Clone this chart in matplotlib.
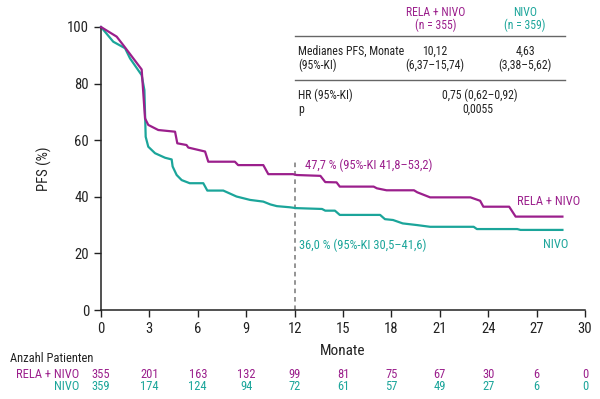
import matplotlib
matplotlib.use("Agg")
import matplotlib.pyplot as plt
import matplotlib.transforms as mtransforms
from matplotlib.lines import Line2D

plt.rcParams["font.family"] = ["Roboto Condensed", "Liberation Sans Narrow", "DejaVu Sans"]
plt.rcParams["font.stretch"] = "condensed"

CLR_RELA = "#9b1f8c"
CLR_NIVO = "#1ba59a"
CLR_TEXT = "#222222"

# KM curves (months, PFS %)
rela_t = [0, 0.97, 1.38, 2.52, 2.73, 2.93, 3.55, 4.59, 4.73, 5.3, 5.41, 6.45, 6.65,
          8.3, 8.5, 10.06, 10.37, 11.9, 12.13, 13.6, 13.9, 14.6, 14.8, 16.9, 17.1,
          17.7, 19.4, 19.6, 20.4, 22.9, 23.5, 23.7, 25.3, 25.7, 28.6]
rela_s = [100, 96.6, 93.6, 85, 67.7, 65.4, 63.6, 63, 58.9, 58.3, 57.4, 56, 52.4,
          52.4, 51.2, 51.2, 48, 48, 47.7, 47.4, 45.2, 45.1, 43.6, 43.6, 43.0,
          42.3, 42.3, 41.6, 39.8, 39.8, 38.6, 36.5, 36.5, 33, 33]

nivo_t = [0, 0.76, 1.49, 1.8, 2.52, 2.69, 2.77, 2.93, 3.35, 3.97, 4.38, 4.44, 4.69,
          5.0, 5.5, 6.34, 6.59, 7.58, 8.4, 9.24, 10.06, 10.5, 10.9, 11.7, 12.1,
          13.7, 13.9, 14.5, 14.8, 17.3, 17.6, 18.1, 18.7, 19.6, 20.4, 23.1, 23.3,
          25.8, 26.0, 28.6]
nivo_s = [100, 94.8, 92.5, 88.9, 83, 77.7, 61.2, 57.7, 55.4, 53.8, 53.2, 50.7, 47.7,
          45.9, 44.8, 44.8, 42.2, 42.2, 40.1, 38.9, 38.3, 37.3, 36.7, 36.3, 36.0,
          35.7, 35.1, 35.1, 33.6, 33.6, 32.1, 31.8, 30.6, 30.0, 29.4, 29.4, 28.6,
          28.6, 28.3, 28.3]

# number at risk
risk_times = [0, 3, 6, 9, 12, 15, 18, 21, 24, 27, 30]
risk_rela = [355, 201, 163, 132, 99, 81, 75, 67, 30, 6, 0]
risk_nivo = [359, 174, 124, 94, 72, 61, 57, 49, 27, 6, 0]

landmark_t = 12
landmark_rela = "47,7 % (95%-KI 41,8–53,2)"
landmark_nivo = "36,0 % (95%-KI 30,5–41,6)"

W, H = 600, 399
fig = plt.figure(figsize=(W / 100, H / 100), dpi=100)
ax = fig.add_axes([101 / W, 1 - 310 / H, 484 / W, 283 / H])

ax.plot(rela_t, rela_s, color=CLR_RELA, lw=1.6, clip_on=False, zorder=3)
ax.plot(nivo_t, nivo_s, color=CLR_NIVO, lw=1.6, clip_on=False, zorder=2)

ax.plot([landmark_t, landmark_t], [0, 53], color="#777777", lw=1.1,
        linestyle=(0, (3, 2.5)), zorder=1)

ax.text(12.65, 51.2, landmark_rela, color=CLR_RELA, fontsize=9, va="center", ha="left")
ax.text(12.3, 23, landmark_nivo, color=CLR_NIVO, fontsize=9, va="center", ha="left")
ax.text(29.7, 38.3, "RELA + NIVO", color=CLR_RELA, fontsize=9, va="center", ha="right")
ax.text(28.95, 23, "NIVO", color=CLR_NIVO, fontsize=9, va="center", ha="right")

ax.set_xlim(0, 30)
ax.set_ylim(0, 100)
ax.set_xticks(risk_times)
ax.set_yticks(range(0, 101, 20))
ax.tick_params(labelsize=10.5, colors=CLR_TEXT, length=5, width=1)
for side in ["top", "right"]:
    ax.spines[side].set_visible(False)
for side in ["left", "bottom"]:
    ax.spines[side].set_color(CLR_TEXT)
    ax.spines[side].set_linewidth(1.1)
ax.set_xlabel("Monate", fontsize=11, color=CLR_TEXT, labelpad=6)
ax.set_ylabel("PFS (%)", fontsize=10.5, color=CLR_TEXT)
ax.yaxis.set_label_coords(-0.101, 0.5)

# number-at-risk table
fig.text(10 / W, 1 - 358 / H, "Anzahl Patienten", fontsize=9, color=CLR_TEXT,
         ha="left", va="center")
fig.text(79 / W, 1 - 374 / H, "RELA + NIVO", fontsize=9, color=CLR_RELA,
         ha="right", va="center")
fig.text(79 / W, 1 - 387 / H, "NIVO", fontsize=9, color=CLR_NIVO,
         ha="right", va="center")
trans = mtransforms.blended_transform_factory(ax.transData, fig.transFigure)
for t, r, n in zip(risk_times, risk_rela, risk_nivo):
    ax.text(t, 1 - 374 / H, str(r), transform=trans, fontsize=9, color=CLR_RELA,
            ha="center", va="center", clip_on=False)
    ax.text(t, 1 - 387 / H, str(n), transform=trans, fontsize=9, color=CLR_NIVO,
            ha="center", va="center", clip_on=False)

# summary table (top right)
def ftxt(x, y, s, color=CLR_TEXT, ha="center"):
    fig.text(x / W, 1 - y / H, s, fontsize=8.5, color=color, ha=ha, va="center")

ftxt(436, 13, "RELA + NIVO", CLR_RELA)
ftxt(436, 25, "(n = 355)", CLR_RELA)
ftxt(525, 13, "NIVO", CLR_NIVO)
ftxt(525, 25, "(n = 359)", CLR_NIVO)
ftxt(298, 51, "Medianes PFS, Monate", ha="left")
ftxt(298, 65, "(95%-KI)", ha="left")
ftxt(435, 51, "10,12")
ftxt(435, 65, "(6,37–15,74)")
ftxt(525, 51, "4,63")
ftxt(525, 65, "(3,38–5,62)")
ftxt(298, 95, "HR (95%-KI)", ha="left")
ftxt(298, 109, "p", ha="left")
ftxt(480, 95, "0,75 (0,62–0,92)")
ftxt(478, 109, "0,0055")

for yy in (36, 80):
    fig.add_artist(Line2D([295 / W, 565 / W], [1 - yy / H, 1 - yy / H],
                          transform=fig.transFigure, color="#666666", lw=1))

fig.savefig("out.png", dpi=100, facecolor="white")
